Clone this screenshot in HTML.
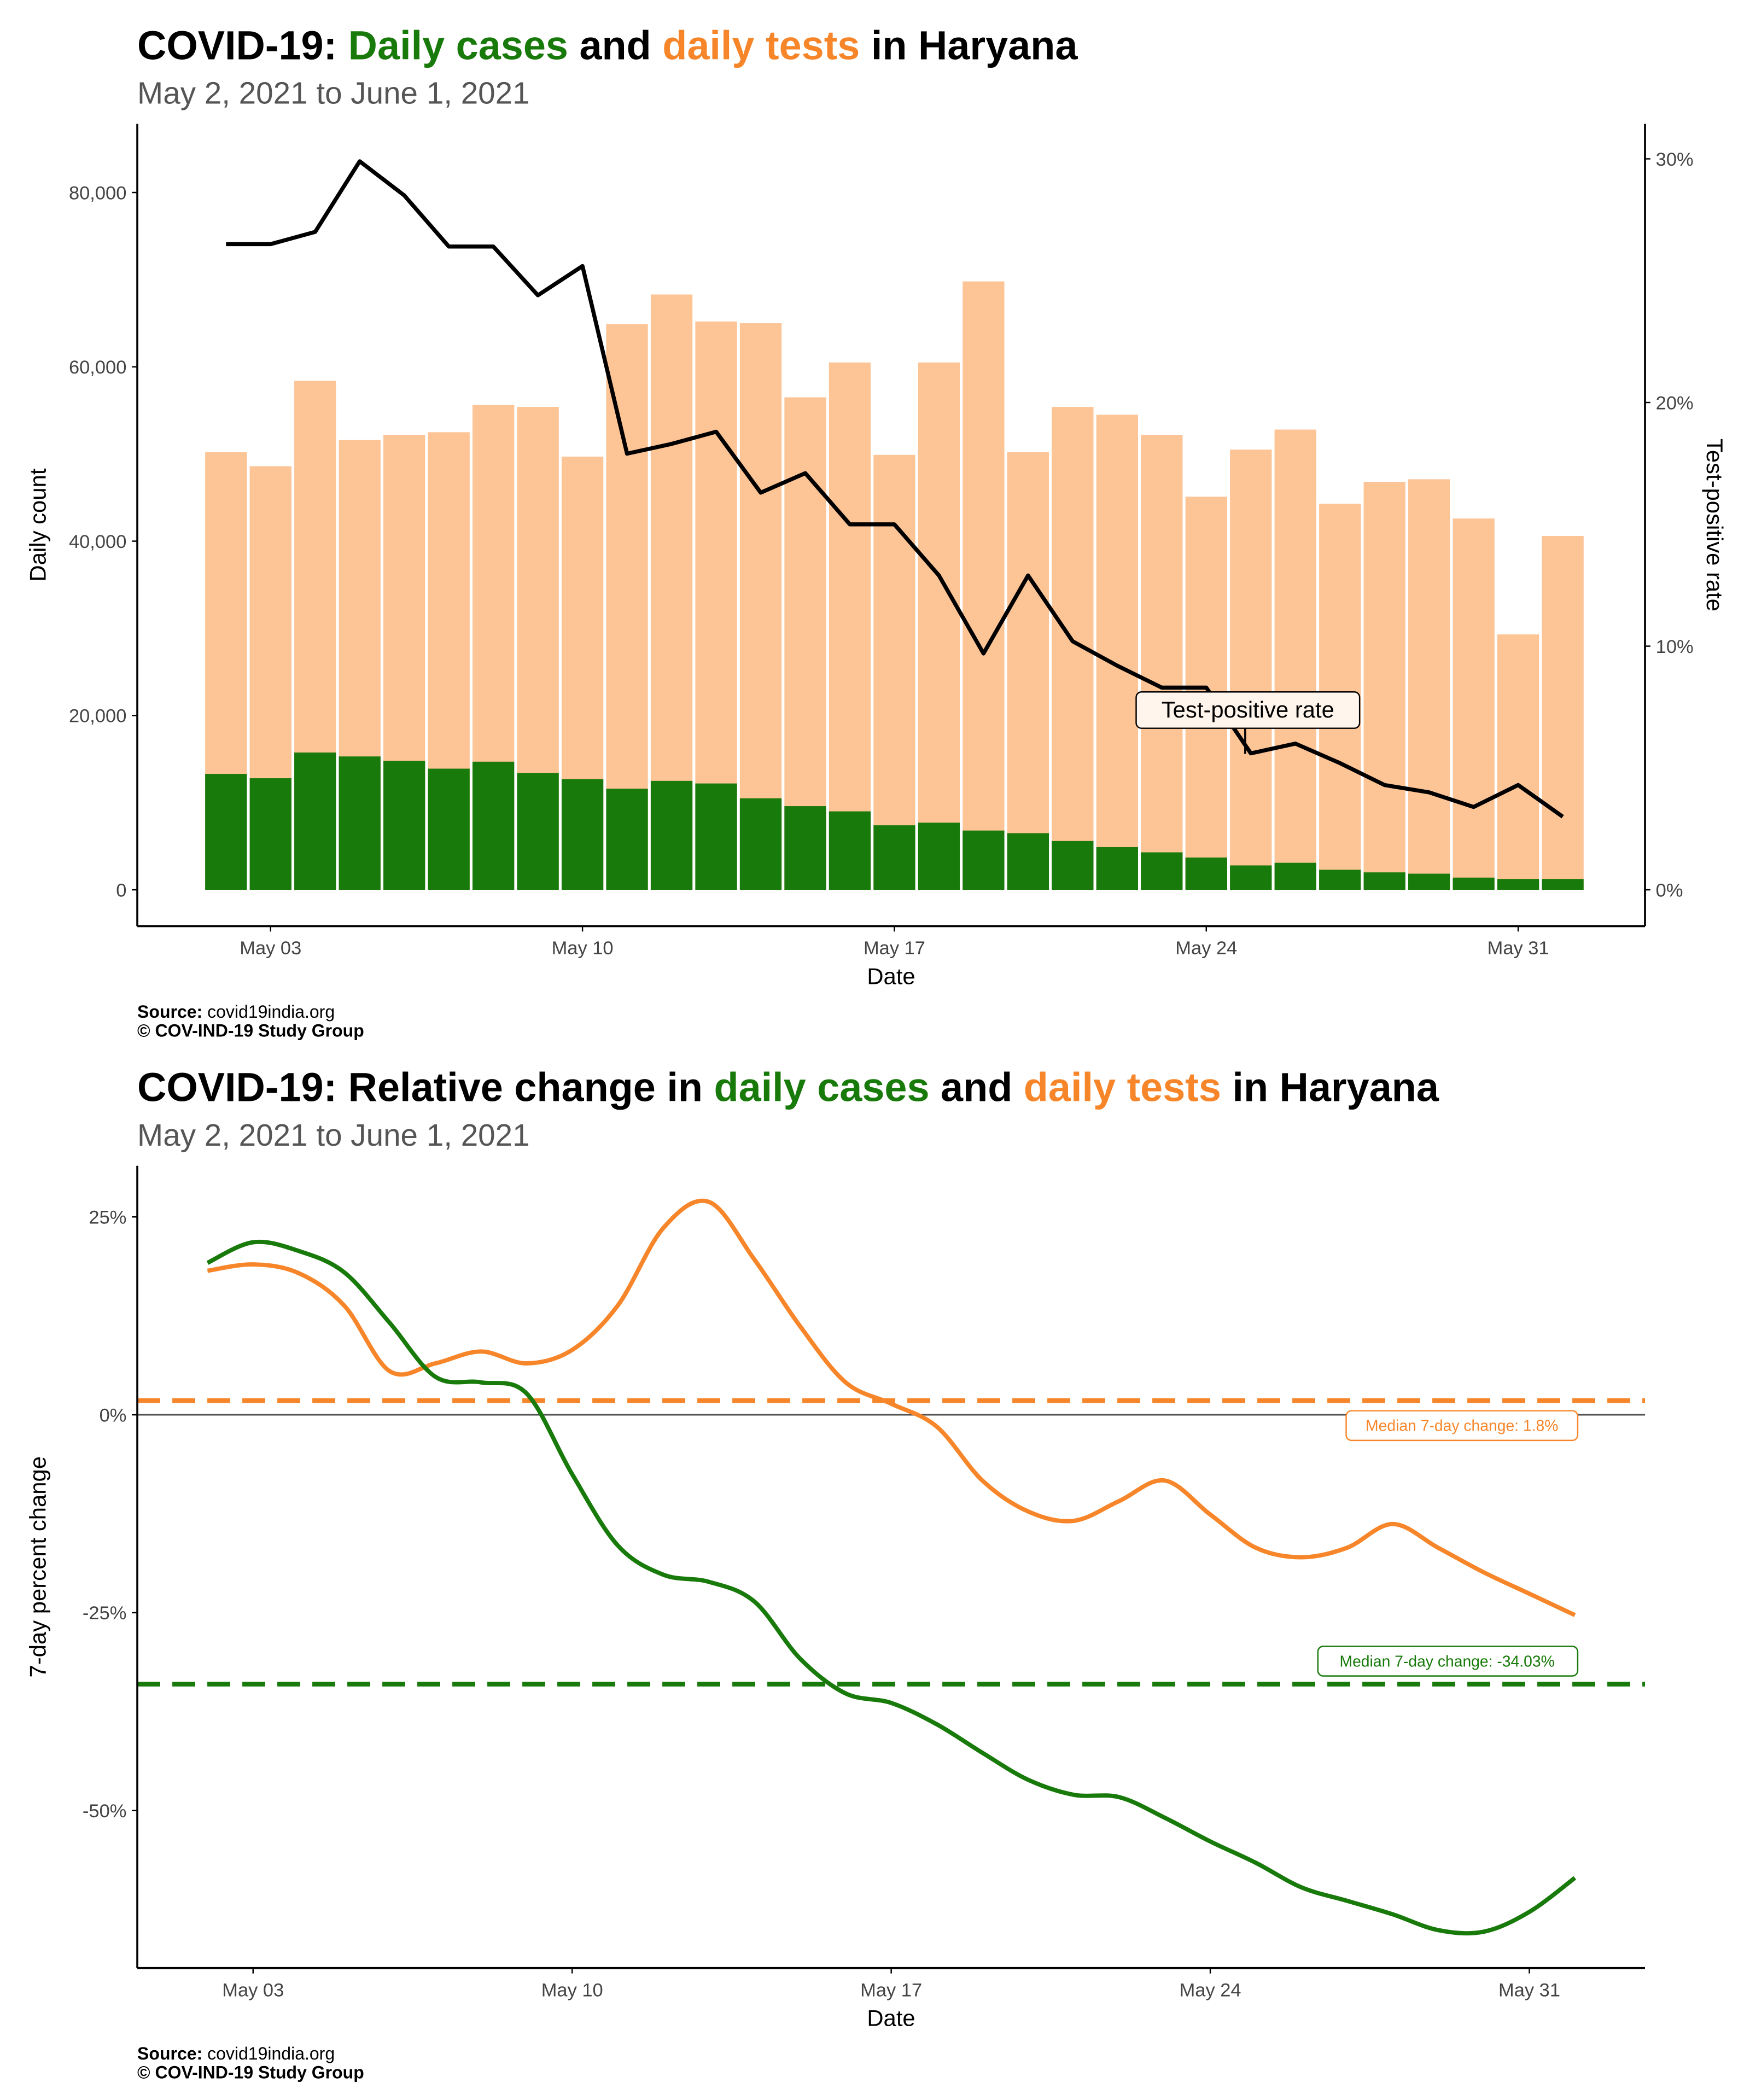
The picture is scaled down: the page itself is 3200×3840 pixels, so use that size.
<!DOCTYPE html>
<html><head><meta charset="utf-8"><style>
html,body{margin:0;padding:0;background:#fff;}
svg{display:block;font-family:"Liberation Sans",sans-serif;}
</style></head><body>
<svg id="root" width="3200" height="3840" viewBox="0 0 1300 1560" xmlns="http://www.w3.org/2000/svg">
<rect width="1300" height="1560" fill="#fff"/>
<g>
<text x="102" y="44" font-size="30" font-weight="bold" fill="#000">COVID-19: <tspan fill="#187a0a">Daily cases</tspan> and <tspan fill="#f7862a">daily tests</tspan> in Haryana</text>
<text x="102" y="77" font-size="23" fill="#555">May  2, 2021 to June  1, 2021</text>
</g>
<g id="topchart"></g>
<g>
<text x="102" y="756" font-size="13" fill="#000"><tspan font-weight="bold">Source:</tspan> covid19india.org</text>
<text x="102" y="770" font-size="13" font-weight="bold" fill="#000">© COV-IND-19 Study Group</text>
</g>
<g>
<text x="102" y="818" font-size="30" font-weight="bold" fill="#000">COVID-19: Relative change in <tspan fill="#187a0a">daily cases</tspan> and <tspan fill="#f7862a">daily tests</tspan> in Haryana</text>
<text x="102" y="851" font-size="23" fill="#555">May  2, 2021 to June  1, 2021</text>
</g>
<g id="botchart"></g>
<g>
<text x="102" y="1530" font-size="13" fill="#000"><tspan font-weight="bold">Source:</tspan> covid19india.org</text>
<text x="102" y="1544" font-size="13" font-weight="bold" fill="#000">© COV-IND-19 Study Group</text>
</g>
</svg>
<script>
const days = [2,3,4,5,6,7,8,9,10,11,12,13,14,15,16,17,18,19,20,21,22,23,24,25,26,27,28,29,30,31,32];
const tests = [50200,48600,58400,51600,52200,52500,55600,55400,49700,64900,68300,65200,65000,56500,60500,49900,60500,69800,50200,55400,54500,52200,45100,50500,52800,44300,46800,47100,42600,29300,40600];
const cases = [13300,12800,15750,15300,14800,13900,14700,13400,12700,11600,12500,12200,10500,9600,9000,7400,7700,6800,6500,5600,4900,4300,3700,2800,3100,2300,2000,1850,1400,1250,1250];
const tpr = [26.5,26.5,27.0,29.9,28.5,26.4,26.4,24.4,25.6,17.9,18.3,18.8,16.3,17.1,15.0,15.0,12.9,9.7,12.9,10.2,9.2,8.3,8.3,5.6,6.0,5.2,4.3,4.0,3.4,4.3,3.0];
const yTicksLeft = [0,20000,40000,60000,80000];
const yTicksRight = [0,10,20,30];
const xTickDays = [3,10,17,24,31];
const xTickLabels = ["May 03","May 10","May 17","May 24","May 31"];
const chgTests = [18.2,19.0,17.9,13.8,5.5,6.5,8.0,6.5,8.2,13.8,23.6,26.9,19.6,11.2,4.1,1.4,-1.5,-8.3,-12.2,-13.4,-10.9,-8.3,-12.6,-16.8,-18.0,-16.8,-13.8,-16.8,-19.9,-22.6,-25.3];
const chgCases = [19.2,21.8,20.7,18.0,11.6,4.8,4.1,2.7,-7.5,-16.5,-20.2,-21.1,-23.6,-30.8,-35.2,-36.4,-39.1,-42.7,-46.1,-48.0,-48.3,-50.9,-53.9,-56.6,-59.7,-61.4,-63.1,-65.1,-65.3,-62.8,-58.5];
const medianTests = 1.8, medianCases = -34.03;
const pctTicks = [25,0,-25,-50];

const NS="http://www.w3.org/2000/svg";
function mk(parent,tag,attrs,text){const e=document.createElementNS(NS,tag);for(const k in attrs)e.setAttribute(k,attrs[k]);if(text!==undefined)e.textContent=text;parent.appendChild(e);return e;}

// top chart
const topG=document.getElementById('topchart');
const tx=d=>201+(d-3)*33.1;
const ty=v=>661-v/20000*129.5;
const tr=p=>661-p*18.1;
days.forEach((d,i)=>{
  const b=mk(topG,'rect',{x:tx(d)-15.5,y:ty(tests[i]),width:31,height:661-ty(tests[i]),fill:'#fdc496'});
  
  
  const c=mk(topG,'rect',{x:tx(d)-15.5,y:ty(cases[i]),width:31,height:661-ty(cases[i]),fill:'#187a0a'});
  
  
});
const tl=mk(topG,'path',{d:days.map((d,i)=>(i?'L':'M')+tx(d)+','+tr(tpr[i])).join(''),fill:'none',stroke:'#000','stroke-width':3,'stroke-linejoin':'round'});


mk(topG,'line',{x1:102,y1:92,x2:102,y2:688,stroke:'#000','stroke-width':1.5});
mk(topG,'line',{x1:1222,y1:92,x2:1222,y2:688,stroke:'#000','stroke-width':1.5});
mk(topG,'line',{x1:102,y1:688,x2:1222,y2:688,stroke:'#000','stroke-width':1.5});
yTicksLeft.forEach(v=>{mk(topG,'line',{x1:98,x2:102,y1:ty(v),y2:ty(v),stroke:'#000'});
  const t=mk(topG,'text',{x:94,y:ty(v)+5,'font-size':14,'text-anchor':'end',fill:'#444'},v.toLocaleString('en-US'));
  
  });
yTicksRight.forEach(v=>{mk(topG,'line',{x1:1222,x2:1226,y1:tr(v),y2:tr(v),stroke:'#000'});
  const t=mk(topG,'text',{x:1230,y:tr(v)+5,'font-size':14,fill:'#444'},v+'%');
  
  });
xTickDays.forEach((d,i)=>{mk(topG,'line',{x1:tx(d),x2:tx(d),y1:688,y2:692,stroke:'#000'});
  const t=mk(topG,'text',{x:tx(d),y:709,'font-size':14,'text-anchor':'middle',fill:'#444'},xTickLabels[i]);
  
  });
mk(topG,'text',{x:662,y:731,'font-size':17,'text-anchor':'middle'},'Date');
mk(topG,'text',{x:34,y:390,'font-size':17,'text-anchor':'middle',transform:'rotate(-90 34 390)'},'Daily count');
mk(topG,'text',{x:1268,y:390,'font-size':17,'text-anchor':'middle',transform:'rotate(90 1268 390)'},'Test-positive rate');
mk(topG,'line',{x1:925,y1:541,x2:925,y2:560,stroke:'#000','stroke-width':1.5});
mk(topG,'rect',{x:844,y:514,width:166,height:27,rx:4,fill:'#fff5ec',stroke:'#000','stroke-width':1});
mk(topG,'text',{x:927,y:533,'font-size':17,'text-anchor':'middle'},'Test-positive rate');

// bottom chart
const botG=document.getElementById('botchart');
const bx=d=>188+(d-3)*33.86;
const by=p=>1051-p*5.88;
function smooth(vals){const pts=days.map((d,i)=>[bx(d),by(vals[i])]);let s='M'+pts[0][0]+','+pts[0][1];
  for(let i=0;i<pts.length-1;i++){const p0=pts[i-1]||pts[i],p1=pts[i],p2=pts[i+1],p3=pts[i+2]||p2;
    s+='C'+(p1[0]+(p2[0]-p0[0])/6)+','+(p1[1]+(p2[1]-p0[1])/6)+' '+(p2[0]-(p3[0]-p1[0])/6)+','+(p2[1]-(p3[1]-p1[1])/6)+' '+p2[0]+','+p2[1];}
  return s;}
mk(botG,'line',{x1:102,x2:1222,y1:by(0),y2:by(0),stroke:'#555','stroke-width':1.2});
const mo=mk(botG,'line',{x1:102,x2:1222,y1:by(medianTests),y2:by(medianTests),stroke:'#f7862a','stroke-width':3.5,'stroke-dasharray':'17,9'});


const mg=mk(botG,'line',{x1:102,x2:1222,y1:by(medianCases),y2:by(medianCases),stroke:'#187a0a','stroke-width':3.5,'stroke-dasharray':'17,9'});


const lo=mk(botG,'path',{d:smooth(chgTests),fill:'none',stroke:'#f7862a','stroke-width':3.2});


const lg=mk(botG,'path',{d:smooth(chgCases),fill:'none',stroke:'#187a0a','stroke-width':3.2});


mk(botG,'line',{x1:102,y1:866,x2:102,y2:1462,stroke:'#000','stroke-width':1.5});
mk(botG,'line',{x1:102,y1:1462,x2:1222,y2:1462,stroke:'#000','stroke-width':1.5});
pctTicks.forEach(v=>{mk(botG,'line',{x1:98,x2:102,y1:by(v),y2:by(v),stroke:'#000'});
  const t=mk(botG,'text',{x:94,y:by(v)+5,'font-size':14,'text-anchor':'end',fill:'#444'},v+'%');
  
  });
xTickDays.forEach((d,i)=>{mk(botG,'line',{x1:bx(d),x2:bx(d),y1:1462,y2:1466,stroke:'#000'});
  const t=mk(botG,'text',{x:bx(d),y:1483,'font-size':14,'text-anchor':'middle',fill:'#444'},xTickLabels[i]);
  
  });
mk(botG,'text',{x:662,y:1505,'font-size':17,'text-anchor':'middle'},'Date');
mk(botG,'text',{x:34,y:1164,'font-size':17,'text-anchor':'middle',transform:'rotate(-90 34 1164)'},'7-day percent change');
mk(botG,'rect',{x:1000,y:1048,width:172,height:22,rx:4,fill:'#fff',stroke:'#f7862a','stroke-width':1});
mk(botG,'text',{x:1086,y:1063,'font-size':11.5,'text-anchor':'middle',fill:'#f7862a'},'Median 7-day change: '+medianTests+'%');
mk(botG,'rect',{x:979,y:1223,width:193,height:22,rx:4,fill:'#fff',stroke:'#187a0a','stroke-width':1});
mk(botG,'text',{x:1075,y:1238,'font-size':11.5,'text-anchor':'middle',fill:'#187a0a'},'Median 7-day change: '+medianCases+'%');
</script>
</body></html>
